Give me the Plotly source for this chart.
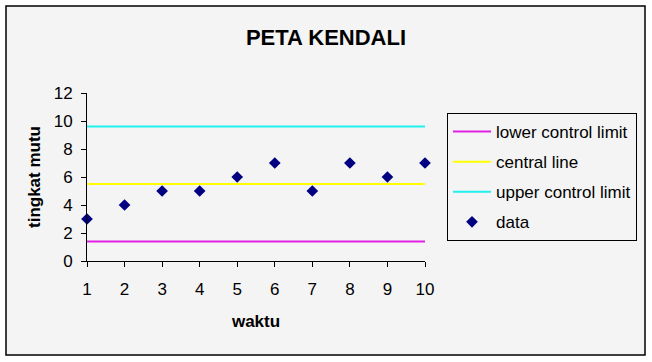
import plotly.graph_objects as go

waktu = [1, 2, 3, 4, 5, 6, 7, 8, 9, 10]
data = [3, 4, 5, 5, 6, 7, 5, 7, 6, 7]
lcl = [1.4] * 10
cl = [5.5] * 10
ucl = [9.6] * 10

W, H = 652, 362
L, R, T, B = 87, 425, 93, 261  # plot area pixel box

def px(x):
    return (x - L) / (R - L)

def py(y):
    return (B - y) / (B - T)

FONT = "Liberation Sans, Arial, sans-serif"

fig = go.Figure()
fig.add_trace(go.Scatter(x=waktu, y=lcl, mode="lines", name="lower control limit",
                         line=dict(color="#E020E0", width=2), legendgroup="a"))
fig.add_trace(go.Scatter(x=waktu, y=cl, mode="lines", name="central line",
                         line=dict(color="#FFFF00", width=2), legendgroup="b"))
fig.add_trace(go.Scatter(x=waktu, y=ucl, mode="lines", name="upper control limit",
                         line=dict(color="#20F0F0", width=2), legendgroup="c"))
fig.add_trace(go.Scatter(x=waktu, y=data, mode="markers", name="data",
                         marker=dict(symbol="diamond", color="#000080", size=9), legendgroup="d",
                         cliponaxis=False))

fig.update_layout(
    width=W, height=H,
    margin=dict(l=L, r=W - R, t=T, b=H - B),
    paper_bgcolor="white",
    plot_bgcolor="rgba(0,0,0,0)",
    font=dict(family=FONT, size=17, color="black"),
    title=dict(text="<b>PETA KENDALI</b>", x=0.5, xref="container", xanchor="center",
               y=1 - 37 / H, yref="container", yanchor="middle",
               font=dict(size=22, family=FONT, color="black")),
    xaxis=dict(range=[1, 10], tickvals=waktu, ticks="outside", ticklen=5, tickcolor="black",
               showgrid=False, zeroline=False, showline=True, linecolor="black", linewidth=1,
               ticklabelstandoff=8,
               title=dict(text="<b>waktu</b>", standoff=16, font=dict(size=17)),
               tickfont=dict(size=17)),
    yaxis=dict(range=[0, 12], dtick=2, ticks="outside", ticklen=5, tickcolor="black",
               showgrid=False, zeroline=False, showline=True, linecolor="black", linewidth=1,
               ticklabelstandoff=5,
               title=dict(text="<b>tingkat mutu</b>", standoff=8, font=dict(size=17)),
               tickfont=dict(size=17)),
    legend=dict(x=px(447), y=py(113), xanchor="left", yanchor="top",
                bordercolor="black", borderwidth=1, bgcolor="rgba(0,0,0,0)",
                font=dict(size=17), tracegroupgap=5, itemwidth=38),
    showlegend=True,
    shapes=[dict(type="rect", xref="paper", yref="paper",
                 x0=px(6), x1=px(645), y0=py(355), y1=py(6),
                 line=dict(color="black", width=1.5), fillcolor="#F4F4F4", layer="below")],
)

fig.write_html("out.html", config={"displayModeBar": False},
               post_script="document.body.style.margin='0';")
